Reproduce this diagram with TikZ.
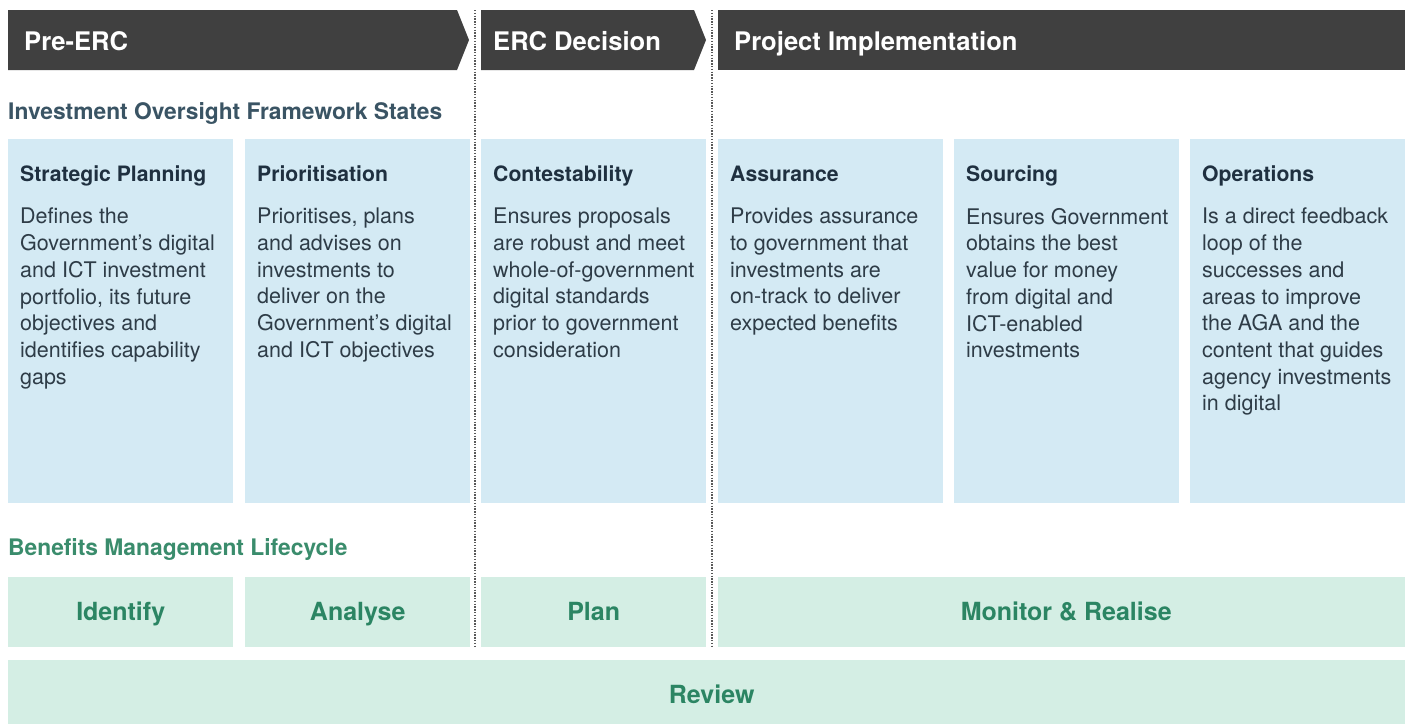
\documentclass[tikz,border=0pt]{standalone}
\usepackage{fontspec}
\setmainfont{TeX Gyre Heros}
\usetikzlibrary{positioning}

\definecolor{phasegrey}{HTML}{404040}
\definecolor{slate}{HTML}{3A5464}
\definecolor{navy}{HTML}{1F3040}
\definecolor{bodyink}{HTML}{2E3C47}
\definecolor{skyfill}{HTML}{D4EAF4}
\definecolor{mintfill}{HTML}{D4EEE4}
\definecolor{leaf}{HTML}{2B8563}
\definecolor{leaflight}{HTML}{3A8C6C}

\begin{document}
\begin{tikzpicture}[x=1pt,y=-1pt,
	phase/.style={fill=phasegrey},
	phasetext/.style={anchor=base west,inner sep=0,text=white,font=\fontsize{25.6}{30}\selectfont\bfseries},
	heading/.style={anchor=base west,inner sep=0,font=\fontsize{22.8}{26}\selectfont\bfseries},
	state/.style={anchor=north west,inner sep=0,fill=skyfill,minimum width=225pt,minimum height=364pt},
	statetitle/.style={anchor=base west,inner sep=0,text=navy,font=\fontsize{21.2}{26}\selectfont\bfseries},
	statebody/.style={anchor=north west,inner sep=0,align=left,text=bodyink,font=\fontsize{21.5}{26.7}\selectfont,
		execute at begin node=\rule{0pt}{20pt}},
	stage/.style={anchor=north west,inner sep=0,fill=mintfill,minimum width=225pt,minimum height=70pt,
		text=leaf,text height=17pt,text depth=0pt,font=\fontsize{25}{28}\selectfont\bfseries},
	divider/.style={draw=black!65,line width=1.8pt,dash pattern=on 1.4pt off 1.4pt}
]
\useasboundingbox (0,0) rectangle (1405,723);

% phase banners
\fill[phase] (8,10) -- (457,10) -- (469,40) -- (457,70) -- (8,70) -- cycle;
\fill[phase] (481,10) -- (694,10) -- (706,40) -- (694,70) -- (481,70) -- cycle;
\fill[phase] (718,10) rectangle (1405,70);
\node[phasetext] (pre) at (24,50) {Pre-ERC};
\node[phasetext] (erc) at (493,50) {ERC Decision};
\node[phasetext] (impl) at (734,50) {Project Implementation};

\draw[divider] (475,10) -- (475,646);
\draw[divider] (712,10) -- (712,646);

\node[heading,text=slate] (iof) at (8,119) {Investment Oversight Framework States};

% framework states
\node[state] (strat) at (8,139) {};
\node[state] (prio) at (245,139) {};
\node[state] (cont) at (481,139) {};
\node[state] (assur) at (718,139) {};
\node[state] (sourc) at (954,139) {};
\node[state,minimum width=215pt] (oper) at (1190,139) {};

\node[statetitle] (strat-t) at (20,181) {Strategic Planning};
\node[statetitle] (prio-t) at (257,181) {Prioritisation};
\node[statetitle] (cont-t) at (493,181) {Contestability};
\node[statetitle] (assur-t) at (730,181) {Assurance};
\node[statetitle] (sourc-t) at (966,181) {Sourcing};
\node[statetitle] (oper-t) at (1202,181) {Operations};

\node[statebody] (strat-b) at (20,208) {Defines the\\Government’s digital\\and ICT investment\\portfolio, its future\\objectives and\\identifies capability\\gaps};
\node[statebody] (prio-b) at (257,208) {Prioritises, plans\\and advises on\\investments to\\deliver on the\\Government’s digital\\and ICT objectives};
\node[statebody] (cont-b) at (493,208) {Ensures proposals\\are robust and meet\\whole-of-government\\digital standards\\prior to government\\consideration};
\node[statebody] (assur-b) at (730,208) {Provides assurance\\to government that\\investments are\\on-track to deliver\\expected benefits};
\node[statebody] (sourc-b) at (966,208) {Ensures Government\\obtains the best\\value for money\\from digital and\\ICT-enabled\\investments};
\node[statebody] (oper-b) at (1202,208) {Is a direct feedback\\loop of the\\successes and\\areas to improve\\the AGA and the\\content that guides\\agency investments\\in digital};

% benefits lifecycle
\node[heading,text=leaflight] (bml) at (8,555) {Benefits Management Lifecycle};
\node[stage] (ident) at (8,577) {Identify};
\node[stage] (anal) at (245,577) {Analyse};
\node[stage] (plan) at (481,577) {Plan};
\node[stage,minimum width=696pt] (monit) at (718,577) {Monitor \& Realise};
\node[stage,minimum width=1407pt] (review) at (8,660) {Review};
\end{tikzpicture}
\end{document}
